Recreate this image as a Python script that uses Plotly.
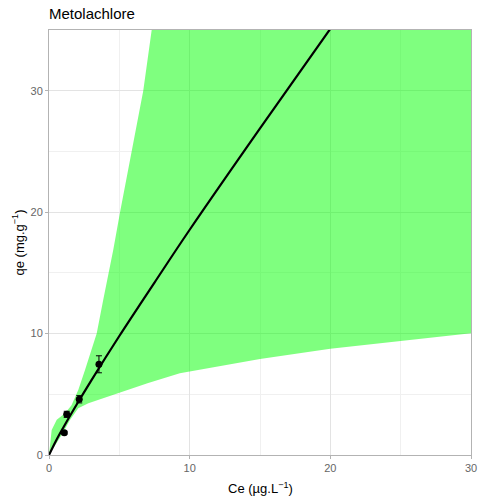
import plotly.graph_objects as go

# Observed data (Ce, qe) with standard deviations
obs_ce = [1.09, 1.26, 2.15, 3.55]
obs_qe = [1.84, 3.35, 4.59, 7.47]
obs_sd = [0.12, 0.25, 0.3, 0.7]

# Fitted curve
fit_ce = [0, 0.5, 1, 2, 3, 5, 7.5, 10, 15, 20]
fit_qe = [0, 1.18, 2.23, 4.22, 6.13, 9.8, 14.2, 18.55, 26.9, 35.1]

# Confidence band (upper visible edge, clipped at top of panel)
band_up_ce = [0, 0.19, 0.55, 1.14, 1.6, 2.08, 2.56, 2.9, 3.39, 3.86, 4.57, 5.05, 5.6, 6.15, 6.7, 7.3, 30]
band_up_qe = [0, 2.06, 2.9, 3.43, 4.1, 5.36, 7.0, 8.3, 10.0, 12.8, 16.9, 20, 23.4, 26.8, 30, 35, 35]
band_lo_ce = [0, 0.31, 0.9, 1.49, 2.08, 2.8, 3.5, 4.57, 7, 9.3, 12.5, 15, 17.8, 20, 25, 30]
band_lo_qe = [0, 0.55, 1.65, 2.89, 3.85, 4.26, 4.53, 4.95, 5.9, 6.73, 7.4, 7.9, 8.38, 8.74, 9.4, 10.03]

fig = go.Figure()
fig.add_trace(go.Scatter(
    x=band_up_ce + band_lo_ce[::-1],
    y=band_up_qe + band_lo_qe[::-1],
    fill="toself", fillcolor="rgba(0,255,0,0.5)",
    line=dict(width=0), mode="lines", hoverinfo="skip", showlegend=False))
fig.add_trace(go.Scatter(
    x=fit_ce, y=fit_qe, mode="lines", line=dict(color="black", width=2.2, shape="spline"),
    showlegend=False))
fig.add_trace(go.Scatter(
    x=obs_ce, y=obs_qe, mode="markers",
    marker=dict(color="black", size=7),
    error_y=dict(type="data", array=obs_sd, color="black", thickness=1, width=3),
    showlegend=False))

axis_common = dict(
    showline=True, linecolor="#b3b3b3", linewidth=1, mirror=True,
    ticks="outside", ticklen=3, tickcolor="#b3b3b3", tickwidth=1,
    tickfont=dict(family="Liberation Sans, Arial", size=11, color="#666666"),
    gridcolor="#e3e3e3", gridwidth=1, zeroline=False, automargin=False,
    minor=dict(dtick=5, showgrid=True, gridcolor="#f0f0f0", gridwidth=0.6, ticks=""),
)
fig.update_xaxes(range=[0, 30], tickvals=[0, 10, 20, 30], **axis_common)
fig.update_yaxes(range=[0, 35], tickvals=[0, 10, 20, 30], **axis_common)

tfont = dict(family="Liberation Sans, Arial", size=13, color="black")
fig.add_annotation(text="Ce (µg.L<sup>−1</sup>)", xref="paper", yref="paper", x=0.5, y=0,
                   yshift=-33, xanchor="center", yanchor="middle", showarrow=False, font=tfont)
fig.add_annotation(text="qe (mg.g<sup>−1</sup>)", xref="paper", yref="paper", x=0, y=0.5,
                   xshift=-31, xanchor="center", yanchor="middle", textangle=-90,
                   showarrow=False, font=tfont)
fig.update_layout(
    width=479, height=499,
    margin=dict(l=49, r=8, t=30, b=44, autoexpand=False),
    plot_bgcolor="white", paper_bgcolor="white",
    title=dict(text="Metolachlore", x=49/479, xanchor="left", y=1-14/499, yanchor="middle",
               font=dict(family="Liberation Sans, Arial", size=15, color="black")),
)
fig.write_html("out.html", config={"displayModeBar": False},
               post_script="document.body.style.margin='0';")
